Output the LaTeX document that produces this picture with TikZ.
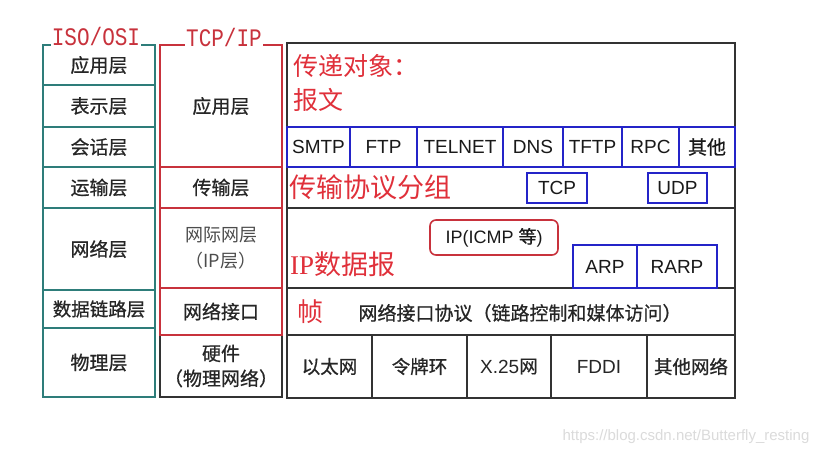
\documentclass[tikz,border=0pt]{standalone}
\usepackage{fontspec}
\setmainfont{Liberation Sans}
\newfontfamily\cjk{Noto Sans CJK SC}
\newfontfamily\cjkb{Noto Sans CJK SC}[FakeBold=0.7]
\newfontfamily\monof{Liberation Mono}
\newfontfamily\seriff{Liberation Serif}
\definecolor{osi}{HTML}{2E7D7A}
\definecolor{tcpred}{HTML}{C8323C}
\definecolor{blu}{HTML}{2424C8}
\definecolor{dark}{HTML}{333333}
\definecolor{rtext}{HTML}{E0303A}
\begin{document}
\begin{tikzpicture}[x=1pt,y=-1pt,
  sz/.style 2 args={minimum width=#1pt, minimum height=#2pt},
  cell/.style={draw, line width=1.6pt, inner sep=0pt, font=\cjkb\fontsize{19}{25}\selectfont, align=center, text=black!85},
  osicell/.style={cell, draw=osi},
  tcpcell/.style={cell, draw=tcpred},
  hwcell/.style={cell, draw=dark},
  frame/.style={draw=dark, line width=1.6pt, inner sep=0pt},
  bcell/.style={frame, font=\cjkb\fontsize{18.5}{20}\selectfont, text=black!85},
  proto/.style={draw=blu, line width=1.8pt, inner sep=0pt, font=\fontsize{19}{21}\selectfont, text=black!90},
  redtxt/.style={text=rtext, font=\cjk\fontsize{25}{27}\selectfont, anchor=west, inner sep=0pt},
  title/.style={text=tcpred, font=\monof\fontsize{21}{23}\selectfont, fill=white, inner sep=1pt, yscale=1.2}
]
\fill[white] (0,0) rectangle (826,453);
\useasboundingbox (0,0) rectangle (826,453);

% ISO/OSI column
\node[osicell, sz={112}{40}] (o1) at (99,65) {应用层};
\node[osicell, sz={112}{42}] (o2) at (99,106) {表示层};
\node[osicell, sz={112}{40}] (o3) at (99,147) {会话层};
\node[osicell, sz={112}{41}] (o4) at (99,187.5) {运输层};
\node[osicell, sz={112}{82}] (o5) at (99,249) {网络层};
\node[osicell, sz={112}{38}, font=\cjkb\fontsize{18.5}{20}\selectfont] (o6) at (99,309) {数据链路层};
\node[osicell, sz={112}{69}] (o7) at (99,362.5) {物理层};

% TCP/IP column
\node[hwcell, sz={122}{62}] (c5) at (221,366) {硬件\\（物理网络）};
\node[tcpcell, sz={122}{122}] (c1) at (221,106) {应用层};
\node[tcpcell, sz={122}{41}] (c2) at (221,187.5) {传输层};
\node[tcpcell, sz={122}{80}, font=\cjk\fontsize{18}{26}\selectfont, text=black!70] (c3) at (221,248) {网际网层\\（IP层）};
\node[tcpcell, sz={122}{47}] (c4) at (221,311.5) {网络接口};

% titles
\node[title] (tosi) at (96,36) {ISO/OSI};
\node[title] (ttcp) at (224,37) {TCP/IP};

% right block frames
\node[frame, sz={448}{84}] (r1) at (511,85) {};
\node[frame, sz={448}{41}] (r2) at (511,187.5) {};
\node[frame, sz={448}{80}] (r3) at (511,248) {};
\node[frame, sz={448}{47}] (r4) at (511,311.5) {};
\node[bcell, sz={85}{63}] (b1) at (329.5,366.5) {以太网};
\node[bcell, sz={95}{63}] (b2) at (419.5,366.5) {令牌环};
\node[bcell, sz={84}{63}] (b3) at (509,366.5) {\fontsize{19}{21}\selectfont\rmfamily X.25{\cjkb\fontsize{18.5}{20}\selectfont 网}};
\node[bcell, sz={96}{63}] (b4) at (599,366.5) {\fontsize{19}{21}\selectfont\rmfamily FDDI};
\node[bcell, sz={88}{63}] (b5) at (691,366.5) {其他网络};

% application protocols
\node[proto, sz={63}{40}] (p1) at (318.5,147) {SMTP};
\node[proto, sz={67}{40}] (p2) at (383.5,147) {FTP};
\node[proto, sz={86}{40}] (p3) at (460,147) {TELNET};
\node[proto, sz={60}{40}] (p4) at (533,147) {DNS};
\node[proto, sz={59}{40}] (p5) at (592.5,147) {TFTP};
\node[proto, sz={57}{40}] (p6) at (650.5,147) {RPC};
\node[proto, sz={56}{40}] (p7) at (707,147) {{\cjkb 其他}};

% transport protocols
\node[proto, line width=2.4pt, sz={60}{30}] (tcp) at (557,188) {TCP};
\node[proto, line width=2.4pt, sz={59}{30}] (udp) at (677.5,188) {UDP};

% internet layer
\node[draw=tcpred, line width=1.6pt, rounded corners=6pt, sz={128}{35}, inner sep=0pt, font=\fontsize{18}{20}\selectfont, text=black!90] (ip) at (494,237.5) {IP(ICMP {\cjkb 等})};
\node[proto, line width=2pt, sz={64}{43}] (arp) at (605,266.5) {ARP};
\node[proto, line width=2pt, sz={80}{43}] (rarp) at (677,266.5) {RARP};

% red texts
\node[redtxt] (t1) at (293,66) {传递对象：};
\node[redtxt] (t2) at (293,100) {报文};
\node[redtxt, font=\cjk\fontsize{27}{29}\selectfont] (t3) at (289,187) {传输协议分组};
\node[redtxt, font=\cjk\fontsize{27}{29}\selectfont] (t4) at (290,264) {{\seriff IP}数据报};
\node[redtxt, font=\cjk\fontsize{26}{28}\selectfont] (t5) at (297,312) {帧};
\node[inner sep=0pt, font=\cjkb\fontsize{19}{21}\selectfont, text=black!85] (t6) at (520,313) {网络接口协议（链路控制和媒体访问）};

% watermark
\node[inner sep=0pt, font=\fontsize{15}{17}\selectfont, text=black!14] (wm) at (686,437) {https://blog.csdn.net/Butterfly\_resting};
\end{tikzpicture}
\end{document}
